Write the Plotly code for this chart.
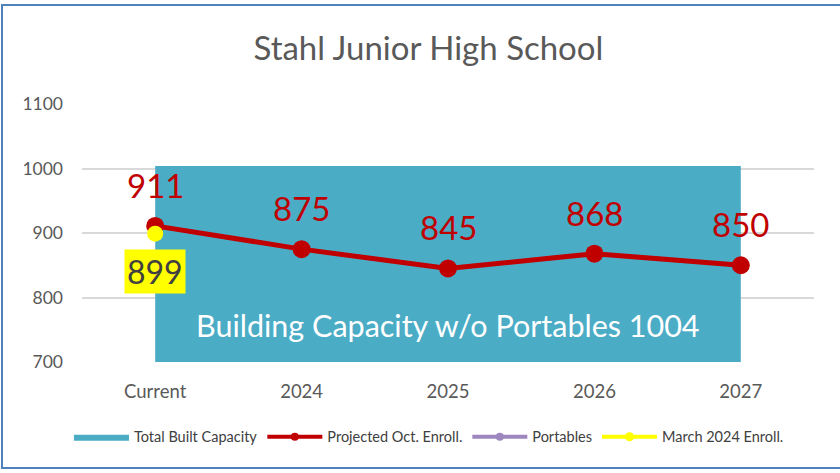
import plotly.graph_objects as go

categories = ["Current", "2024", "2025", "2026", "2027"]
capacity = [1004, 1004, 1004, 1004, 1004]
projected = [911, 875, 845, 868, 850]
portables = [None, None, None, None, None]
march_enroll = [899]
yticks = [700, 800, 900, 1000, 1100]

xs = list(range(len(categories)))
FONT = "Lato, 'Open Sans', sans-serif"
RED = "#C00000"
TEAL = "#4BACC6"
PURPLE = "#9E87BE"
YELLOW = "#FFFF00"

fig = go.Figure()
fig.add_trace(go.Scatter(
    x=xs, y=capacity, name="Total Built Capacity", mode="lines",
    line=dict(width=0, color=TEAL), fill="tozeroy", fillcolor=TEAL,
    hoverinfo="skip", showlegend=False))
fig.add_trace(go.Scatter(
    x=xs, y=projected, name="Projected Oct. Enroll.", mode="lines+markers",
    line=dict(color=RED, width=5), marker=dict(size=18, color=RED), showlegend=False))
fig.add_trace(go.Scatter(
    x=xs, y=portables, name="Portables", mode="lines+markers",
    line=dict(color=PURPLE, width=5), marker=dict(size=12, color=PURPLE), showlegend=False))
fig.add_trace(go.Scatter(
    x=[0], y=march_enroll, name="March 2024 Enroll.", mode="lines+markers",
    line=dict(color=YELLOW, width=5), marker=dict(size=16, color=YELLOW), showlegend=False))

# legend-only entries with small symbols
fig.add_trace(go.Scatter(x=[None], y=[None], name="Total Built Capacity", mode="lines",
                         line=dict(color=TEAL, width=0), fill="tozeroy", fillcolor=TEAL))
fig.add_trace(go.Scatter(x=[None], y=[None], name="Projected Oct. Enroll.", mode="lines+markers",
                         line=dict(color=RED, width=4), marker=dict(size=8, color=RED)))
fig.add_trace(go.Scatter(x=[None], y=[None], name="Portables", mode="lines+markers",
                         line=dict(color=PURPLE, width=4), marker=dict(size=8, color=PURPLE)))
fig.add_trace(go.Scatter(x=[None], y=[None], name="March 2024 Enroll.", mode="lines+markers",
                         line=dict(color=YELLOW, width=4), marker=dict(size=9, color=YELLOW)))

for x, v in zip(xs, projected):
    fig.add_annotation(x=x, y=v, xref="x", yref="y", text=str(v), showarrow=False,
                       yshift=41, font=dict(size=33, color=RED, family=FONT))

fig.add_annotation(x=0, y=march_enroll[0], xref="x", yref="y", text=str(march_enroll[0]),
                   showarrow=False, yshift=-38, bgcolor=YELLOW,
                   font=dict(size=32, color="#404040", family=FONT), borderpad=2)
fig.add_annotation(x=2, y=757, xref="x", yref="y",
                   text="Building Capacity w/o Portables " + str(capacity[0]),
                   showarrow=False, font=dict(size=30.5, color="white", family=FONT))

# chart border
fig.add_shape(type="rect", xref="paper", yref="paper",
              x0=(2 - 82) / 732, x1=(848 - 82) / 732,
              y0=(362 - 468) / 258, y1=(362 - 5) / 258,
              line=dict(color="#4F81BD", width=2), layer="below")

fig.update_layout(
    width=840, height=473,
    margin=dict(l=82, r=26, t=104, b=111, autoexpand=False),
    paper_bgcolor="white", plot_bgcolor="white",
    title=dict(text="Stahl Junior High School", x=0.51, xanchor="center",
               y=1 - 48 / 473, yanchor="middle",
               font=dict(size=33, color="#595959", family=FONT)),
    font=dict(family=FONT, color="#595959"),
    showlegend=True,
    legend=dict(orientation="h", x=0.474, xanchor="center", y=-0.29, yanchor="middle",
                font=dict(size=14.5, color="#404040", family=FONT), itemwidth=55),
    xaxis=dict(tickvals=xs, ticktext=categories, range=[-0.5, 4.5],
               showgrid=False, zeroline=False, showline=False,
               tickfont=dict(size=18.5, color="#595959"), ticks="", ticklabelstandoff=16),
    yaxis=dict(range=[700, 1100], tickvals=yticks, showgrid=True,
               gridcolor="#D9D9D9", gridwidth=1.5, zeroline=False,
               tickfont=dict(size=17.5, color="#595959"), ticks="", ticklabelstandoff=18),
)

fig.write_html("out.html", post_script="document.body.style.margin='0';",
               config={"displayModeBar": False})
